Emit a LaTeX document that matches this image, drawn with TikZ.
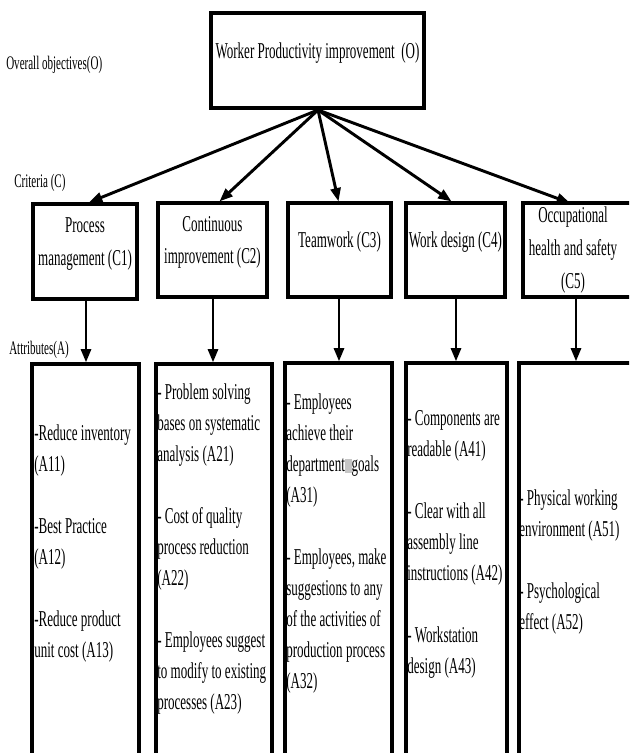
\documentclass[tikz,border=0pt]{standalone}
\usepackage{fontspec}
\setmainfont[FakeStretch=0.575]{Liberation Serif}
\usetikzlibrary{arrows.meta,calc,fit}
\newcommand{\oddglyph}{\textcolor{gray!45}{\rule[-1pt]{5pt}{11pt}}}
\begin{document}
\begin{tikzpicture}[x=0.75pt,y=-0.75pt,
  box/.style={draw,line width=2.4pt,inner sep=0pt,align=center,
    font=\fontsize{17}{24.5}\selectfont},
  lbl/.style={anchor=west,inner sep=0pt,font=\fontsize{14.4}{16}\selectfont},
  atext/.style={anchor=west,inner sep=0pt,align=left,
    font=\fontsize{17}{23.25}\selectfont},
  arr/.style={line width=2.2pt,-{Triangle[length=10pt,width=7.5pt]}}
]
\useasboundingbox (0,0) rectangle (629,753);
\clip (0,0) rectangle (629,753);

% top objective
\node[box, fit={(211,13)(424,108)}] (O) {Worker Productivity improvement\ \ (O)};

% criteria
\node[box, fit={(33,204)(137,299)}] (C1) {Process\\management (C1)};
\node[box, fit={(158,203)(267,297)}] (C2) {Continuous\\improvement (C2)};
\node[box, fit={(288,203)(391,297)}] (C3) {Teamwork (C3)};
\node[box, fit={(406,203)(505,297)}] (C4) {Work design (C4)};
\node[box, fit={(523,203)(635,297)}] (C5) {};
\node[align=center,inner sep=0pt,font=\fontsize{17}{24.5}\selectfont] (C5t) at (573,250) {Occupational\\health and safety\\(C5)};

% attribute boxes (open at the bottom of the picture)
\node[box, fit={(32,364)(139,770)}] (A1) {};
\node[box, fit={(156,364)(272,770)}] (A2) {};
\node[box, fit={(285,363)(392,770)}] (A3) {};
\node[box, fit={(406,363)(507,770)}] (A4) {};
\node[box, fit={(519,363)(640,770)}] (A5) {};

% labels
\node[lbl] (lO) at (6,65) {Overall objectives(O)};
\node[lbl] (lC) at (14,183) {Criteria (C)};
\node[lbl] (lA) at (9,350) {Attributes(A)};

% arrows objective -> criteria
\coordinate (src) at (318,110);
\draw[arr] (src) -- ($(C1.north)+(4,0)$);
\draw[arr] (src) -- ($(C2.north)+(7,0)$);
\draw[arr] (src) -- ($(C3.north)+(-1,0)$);
\draw[arr] (src) -- ($(C4.north)+(-4,0)$);
\coordinate (c5top) at (570,203);
\draw[arr] (src) -- (c5top);

% arrows criteria -> attributes
\draw[arr] (C1.south -| 86,0) -- (A1.north -| 86,0);
\draw[arr] (C2.south -| 213,0) -- (A2.north -| 213,0);
\draw[arr] (C3.south -| 339,0) -- (A3.north -| 339,0);
\draw[arr] (C4.south -| 456,0) -- (A4.north -| 456,0);
\draw[arr] (C5.south -| 576,0) -- (A5.north -| 576,0);

% attribute texts
\node[atext] (T1) at (34,544) {-Reduce inventory\\(A11)\\[23.25pt]-Best Practice\\(A12)\\[23.25pt]-Reduce product\\unit cost (A13)};
\node[atext] (T2) at (157,549) {- Problem solving\\bases on systematic\\analysis (A21)\\[23.25pt]- Cost of quality\\process reduction\\(A22)\\[23.25pt]- Employees suggest\\to modify to existing\\processes (A23)};
\node[atext] (T3) at (286,544) {- Employees\\achieve their\\department\oddglyph goals\\(A31)\\[23.25pt]- Employees, make\\suggestions to any\\of the activities of\\production process\\(A32)};
\node[atext] (T4) at (407,544) {- Components are\\readable (A41)\\[23.25pt]- Clear with all\\assembly line\\instructions (A42)\\[23.25pt]- Workstation\\design (A43)};
\node[atext] (T5) at (519,562) {- Physical working\\environment (A51)\\[23.25pt]- Psychological\\effect (A52)};
\end{tikzpicture}
\end{document}
